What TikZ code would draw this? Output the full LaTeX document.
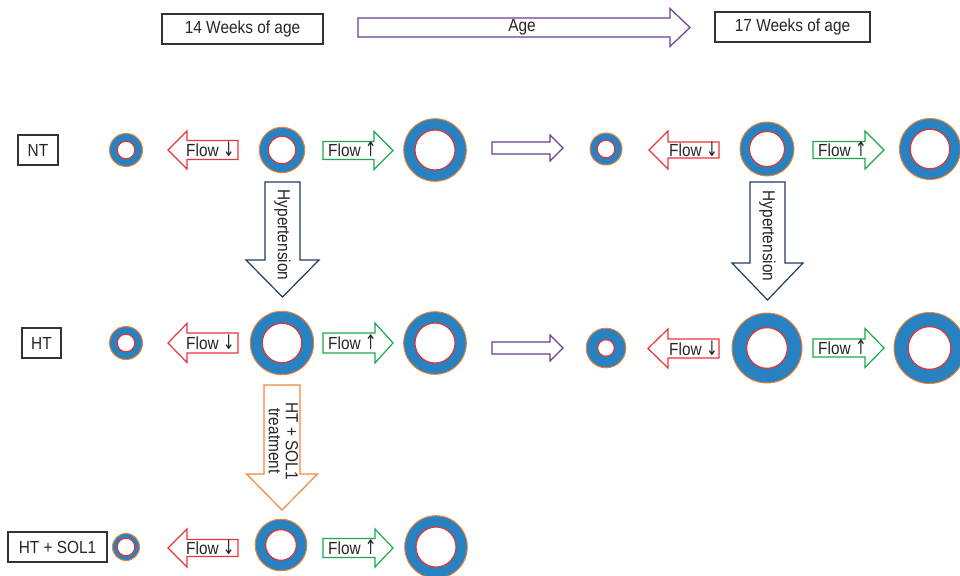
\documentclass[tikz,border=0pt]{standalone}
\usepackage{fontspec}
\setmainfont{Liberation Sans}[FakeStretch=0.88]
\newfontfamily\arrowfont{DejaVu Sans}
\definecolor{ringblue}{RGB}{40,129,192}
\definecolor{ringorange}{RGB}{240,128,44}
\definecolor{ringred}{RGB}{232,48,44}
\definecolor{flowred}{RGB}{232,52,58}
\definecolor{flowgreen}{RGB}{28,168,74}
\definecolor{agepurple}{RGB}{106,61,143}
\definecolor{htnavy}{RGB}{31,59,99}
\definecolor{solorange}{RGB}{245,135,59}
\definecolor{boxgray}{RGB}{51,51,51}
\definecolor{txtgray}{RGB}{38,38,38}
\newcommand\dn{\scalebox{0.8}[1.15]{\arrowfont ↓}}
\newcommand\upa{\scalebox{0.8}[1.15]{\arrowfont ↑}}
% horizontal block arrow: style, tail x, head-base x, tip x, centre y, shaft half, head half
\newcommand\HBlock[7]{\draw[#1] ({#2},{#5-#6}) -- ({#3},{#5-#6}) -- ({#3},{#5-#7}) -- ({#4},{#5}) -- ({#3},{#5+#7}) -- ({#3},{#5+#6}) -- ({#2},{#5+#6}) -- cycle;}
% vertical block arrow: style, centre x, tail y, head-base y, tip y, shaft half, head half
\newcommand\VBlock[7]{\draw[#1] ({#2-#6},{#3}) -- ({#2-#6},{#4}) -- ({#2-#7},{#4}) -- ({#2},{#5}) -- ({#2+#7},{#4}) -- ({#2+#6},{#4}) -- ({#2+#6},{#3}) -- cycle;}
% vessel ring: x, y, outer r, inner r
\newcommand\Vessel[4]{\fill[ringblue,draw=ringorange,line width=1pt] ({#1},{#2}) circle[radius=#3];
  \draw[fill=white,draw=ringred,line width=1.1pt] ({#1},{#2}) circle[radius=#4];}
\tikzset{
  lbl/.style={font=\fontsize{17.5}{18}\selectfont,text=txtgray,inner sep=0pt},
  labelbox/.style={lbl,draw=boxgray,line width=1.2pt,minimum height=30pt},
  redarr/.style={draw=flowred,fill=white,line width=1.2pt},
  greenarr/.style={draw=flowgreen,fill=white,line width=1.2pt},
  purplearr/.style={draw=agepurple,fill=white,line width=1.2pt},
  navyarr/.style={draw=htnavy,fill=white,line width=1.2pt},
  orangearr/.style={draw=solorange,fill=white,line width=1.2pt},
  flowtxt/.style={lbl,anchor=base west,yshift=-6.2pt}
}
\begin{document}
\begin{tikzpicture}[x=1pt,y=-1pt]
\useasboundingbox (0,0) rectangle (960,575);
\clip (0,0) rectangle (960,575);
% top row
\node[labelbox,minimum width=161pt] (w14) at (242.5,29) {14 Weeks of age};
\node[labelbox,minimum width=155pt] (w17) at (792.5,27) {17 Weeks of age};
\HBlock{purplearr}{358}{670}{690}{27.5}{9.5}{19}
\node[lbl] (age) at (522,27) {Age};
% row labels
\node[labelbox,minimum width=40pt] (nt) at (38,150) {NT};
\node[labelbox,minimum width=39pt] (ht) at (41.5,343) {HT};
\node[labelbox,minimum width=99pt] (htsol) at (57.5,547) {HT + SOL1};
% ---------- row 1 (NT)
\Vessel{126}{150}{16.5}{8.8}
\HBlock{redarr}{238}{187}{168}{150}{9.5}{19}
\node[flowtxt] (f1a) at (186,150) {Flow \dn};
\Vessel{282}{150}{22.7}{13.7}
\HBlock{greenarr}{323}{374}{393}{150.5}{9}{19}
\node[flowtxt] (f1b) at (328,150.5) {Flow \upa};
\Vessel{435}{150}{31.3}{20}
\HBlock{purplearr}{492}{550}{563}{148}{6}{13}
\Vessel{606}{149}{16}{8.8}
\HBlock{redarr}{719}{668}{649}{150}{8}{19}
\node[flowtxt] (f1c) at (669,150) {Flow \dn};
\Vessel{767}{149}{27}{17.5}
\HBlock{greenarr}{813}{865}{884}{150}{8.5}{19}
\node[flowtxt] (f1d) at (818,150) {Flow \upa};
\Vessel{930}{149}{30.5}{19.7}
% hypertension arrows
\VBlock{navyarr}{282.5}{182}{260}{297}{17.5}{36.5}
\node[lbl,rotate=-90] (hyp1) at (282.5,235) {Hypertension};
\VBlock{navyarr}{767.5}{182}{263}{300}{17.5}{35.5}
\node[lbl,rotate=-90] (hyp2) at (767.5,236) {Hypertension};
% ---------- row 2 (HT)
\Vessel{126}{343}{16.5}{8.8}
\HBlock{redarr}{238}{187}{168}{343}{10}{19.5}
\node[flowtxt] (f2a) at (186,343) {Flow \dn};
\Vessel{282}{343}{31.7}{19.7}
\HBlock{greenarr}{323}{375}{393}{343}{10}{20}
\node[flowtxt] (f2b) at (328,343) {Flow \upa};
\Vessel{435}{343}{31.3}{20}
\HBlock{purplearr}{492}{550}{563}{348}{6}{13}
\Vessel{606}{348}{19.8}{8.3}
\HBlock{redarr}{719}{668}{648}{348.5}{9.5}{19.5}
\node[flowtxt] (f2c) at (669,349) {Flow \dn};
\Vessel{767}{348}{35}{20.3}
\HBlock{greenarr}{813}{865}{884}{348}{9}{19.5}
\node[flowtxt] (f2d) at (818,348) {Flow \upa};
\Vessel{929.5}{348}{35.5}{21.3}
% treatment arrow
\VBlock{orangearr}{282}{385}{474}{510}{18}{35.5}
\node[lbl,rotate=-90,align=center,font=\fontsize{17.5}{17}\selectfont] (trt) at (283.5,441) {HT + SOL1\\treatment};
% ---------- row 3 (HT + SOL1)
\Vessel{126}{547}{13.5}{8.8}
\HBlock{redarr}{238}{187}{168}{548}{8.5}{19}
\node[flowtxt] (f3a) at (186,548) {Flow \dn};
\Vessel{281}{545}{25.8}{15.3}
\HBlock{greenarr}{323}{375}{393}{548}{9.5}{19}
\node[flowtxt] (f3b) at (328,548) {Flow \upa};
\Vessel{436}{547}{31.3}{20}
\end{tikzpicture}
\end{document}
